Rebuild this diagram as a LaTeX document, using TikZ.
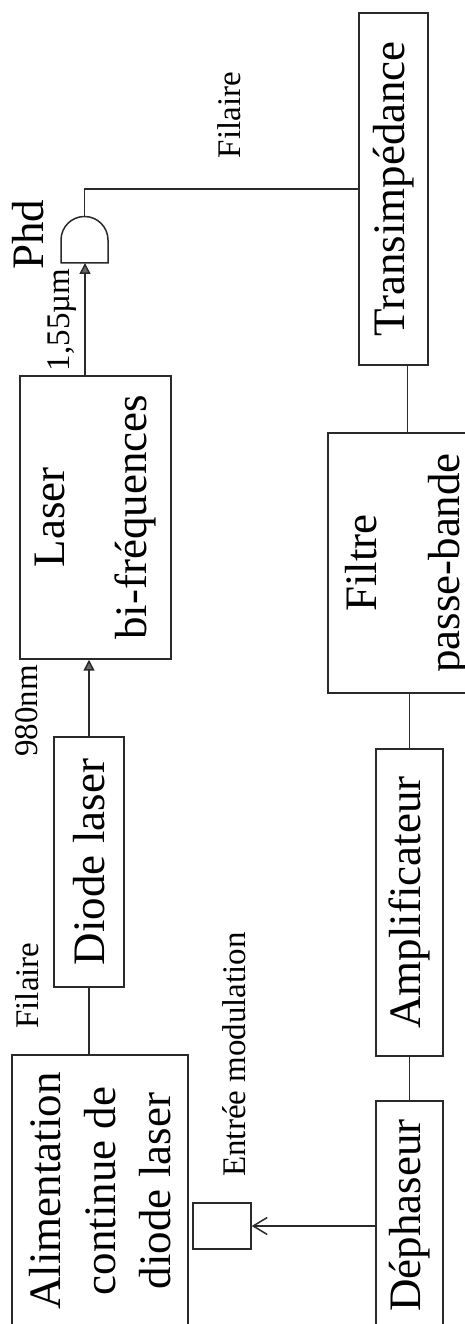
\documentclass[tikz,border=0pt]{standalone}
\usepackage{fontspec}
\setmainfont{Liberation Serif}
\usetikzlibrary{arrows.meta}
\definecolor{linecol}{HTML}{2a2a2a}
\definecolor{tipcol}{HTML}{6a6a6a}
\newcommand{\grand}{\fontsize{45}{55}\selectfont}
\newcommand{\petit}{\fontsize{33}{40}\selectfont}
\tikzset{
  bloc/.style={draw=linecol, line width=1.5pt, inner sep=0pt, align=center, font=\grand},
  lien/.style={draw=linecol, line width=1.5pt},
  tri/.style={lien, -{Triangle[length=11pt,width=11pt,fill=tipcol]}},
  barb/.style={lien, -{Straight Barb[length=14pt,width=17pt]}},
  etiq/.style={font=\petit, inner sep=0pt}
}
\begin{document}
\begin{tikzpicture}[x=1pt, y=1pt, rotate=90, transform shape]

% drawn lying on its side, turned a quarter turn
\path[use as bounding box] (0,-465) rectangle (1324,0);

% --- Upper chain: optical side ---
\node[bloc, minimum width=272, minimum height=176] (alim) at (133,-100)
  {Alimentation\\continue de\\diode laser};
\node[bloc, minimum width=250, minimum height=70] (diode) at (462,-89) {Diode laser};
\node[bloc, minimum width=283, minimum height=151] (laser) at (806.5,-95.5)
  {Laser\\[27pt]bi-fréquences};

% Photodiode
\def\phdr{23.5}
\draw[lien] (1061,-61) -- (1084,-61) arc[start angle=90, end angle=-90, radius=\phdr]
  -- (1061,-108) -- cycle;
\coordinate (phdin) at (1061,-85);
\coordinate (phdout) at (1107.5,-84.5);

% --- Lower chain: electrical side ---
\node[bloc, minimum width=46, minimum height=58] (entree) at (98,-222) {};
\node[bloc, minimum width=229, minimum height=67] (dephaseur) at (108.5,-409.5) {Déphaseur};
\node[bloc, minimum width=307, minimum height=67] (ampli) at (421.5,-409.5) {Amplificateur};
\node[bloc, minimum width=260, minimum height=159] (filtre) at (761,-407.5)
  {Filtre\\[28pt]passe-bande};
\node[bloc, minimum width=352, minimum height=69] (trans) at (1135,-393.5) {Transimpédance};

% Links
\draw[lien] (diode.west) -- (diode.west -| alim.east);
\draw[tri] (diode.east) -- (diode.east -| laser.west);
\draw[tri] (laser.east |- phdin) -- (phdin);
\draw[lien] (phdout) -| (trans.north);
\draw[lien] (filtre.east) -- (filtre.east -| trans.west);
\draw[lien] (ampli.east) -- (ampli.east -| filtre.west);
\draw[lien] (dephaseur.east) -- (ampli.west);
\draw[barb] (entree.south |- dephaseur.north) -- (entree.south);

% Labels
\node[etiq, anchor=base] (fil1) at (338.5,-38) {Filaire};
\node[etiq, anchor=base] (onde1) at (613,-37) {980nm};
\node[etiq, anchor=base] (onde2) at (1004,-69) {1,55µm};
\node[font=\grand, inner sep=0pt, anchor=base] (phd) at (1089,-43) {Phd};
\node[etiq, anchor=base west] (modul) at (147,-245) {Entrée modulation};
\node[etiq, anchor=base] (fil2) at (1209,-240) {Filaire};

\end{tikzpicture}
\end{document}
